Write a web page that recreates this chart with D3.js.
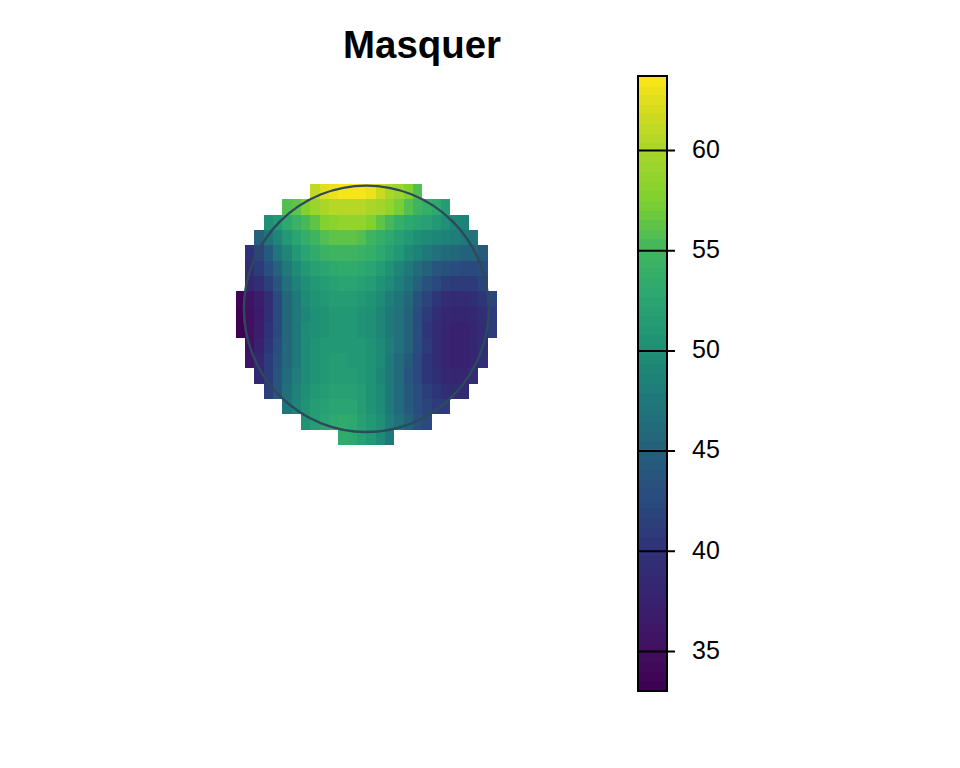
<!DOCTYPE html>
<html>
<head>
<meta charset="utf-8">
<script src="https://cdnjs.cloudflare.com/ajax/libs/d3/7.8.5/d3.min.js"></script>
<style>
  html, body { margin: 0; padding: 0; background: #fff; }
  svg { display: block; font-family: "Liberation Sans", Arial, sans-serif; }
</style>
</head>
<body>
<svg id="chart" width="960" height="768"></svg>
<script>
const title = "Masquer";
const colorTicks = [35, 40, 45, 50, 55, 60];
const valueRange = [33, 63.7];
const columnCount = 28;

// colour ramp as it looks on the reference bar
const rampValues = [33, 35, 37.5, 40, 42.5, 45, 47.5, 50, 52.5, 55, 57.5, 60, 62, 63.7];
const rampColors = ["#3d0050", "#420f60", "#38216f", "#2f3278", "#2a4a7e", "#24607c", "#1f787a",
  "#1f8f76", "#2aa572", "#3fb560", "#7fd12f", "#a9d52a", "#d5dc1e", "#fde619"];

// first column of each row of the grid, the rest of the row runs on from there
const rowStart = [8, 5, 3, 2, 1, 1, 1, 0, 0, 0, 1, 1, 2, 3, 5, 7, 11];

// values, top row first
const cellValues = [
  [61, 62.5, 63, 63.5, 63.5, 63.5, 63, 61.5, 60, 59, 57.5, 56],
  [56, 56.5, 57.5, 59, 60, 60.5, 60.5, 60.5, 60.5, 60, 59.5, 58.5, 57, 56, 55, 54, 53, 51.5],
  [50, 51, 53, 54.5, 55.5, 56.5, 57.5, 58, 58.5, 58.5, 58.5, 57.5, 56.5, 55.5, 54, 53, 52.5, 52, 51, 50, 49, 48.5],
  [45, 47, 49, 51, 52.5, 54, 55, 56, 56.5, 56.5, 56.5, 56, 55, 54, 53, 52, 51, 50, 49.5, 49, 48.5, 48, 47.5, 47],
  [40, 42, 44.5, 47, 49, 51, 52.5, 53.5, 54.5, 55, 55, 55, 54.5, 54, 53, 52, 51, 49.5, 48.5, 47.5, 46.5, 46, 45.5, 45, 45, 44.5],
  [39, 41, 43, 45, 47.5, 49.5, 51, 52, 52.5, 53, 53.5, 53.5, 53, 52.5, 51.5, 50.5, 49, 47.5, 46, 45, 44, 43.5, 43, 42.5, 42.5, 43],
  [38, 39.5, 41.5, 44, 46.5, 48.5, 50, 51, 51.5, 52, 52.5, 52.5, 52, 51.5, 50.5, 49.5, 48, 46.5, 45, 43.5, 42.5, 41.5, 41, 41, 41, 42],
  [33.5, 35.5, 37, 39.5, 42.5, 45.5, 47.5, 49.5, 50.5, 51, 51.5, 51.5, 51.5, 51, 50.5, 49.5, 48, 47, 45.5, 43.5, 42, 40.5, 39.5, 39, 39, 39.5, 40.5, 42],
  [33, 35, 36.5, 39.5, 42.5, 45.5, 47.5, 49, 50, 50.5, 51, 51, 51, 50.5, 50, 49, 47.5, 46.5, 45, 43, 41, 39.5, 38.5, 38, 38, 38.5, 39.5, 41],
  [33, 35, 37, 40, 42.5, 45.5, 47.5, 49.5, 50, 50.5, 51, 51, 51, 50.5, 50, 49, 47.5, 46.5, 45, 43, 40.5, 39, 38, 37.5, 37.5, 38, 39, 41],
  [35, 37.5, 40.5, 43, 45.5, 47.5, 49.5, 50.5, 51, 51, 51, 51, 51, 50.5, 49.5, 48, 46.5, 45, 43, 41, 39, 38, 37.5, 37.5, 38, 39.5],
  [35.5, 38, 41, 43.5, 45.5, 47.5, 49.5, 50.5, 51, 51.5, 51.5, 51, 51, 50.5, 49.5, 47.5, 46, 44.5, 42.5, 40.5, 39, 38, 37.5, 37.5, 38, 39.5],
  [38.5, 41, 44, 46, 48, 49.5, 50.5, 51, 51.5, 51.5, 51.5, 51, 50.5, 49, 47.5, 46, 44, 42.5, 40.5, 39.5, 38.5, 38, 38, 39],
  [41.5, 44, 46.5, 48.5, 50, 51, 51.5, 52, 52, 52, 51.5, 50.5, 49.5, 47.5, 46, 44.5, 43, 41.5, 40.5, 39.5, 39, 39],
  [47, 49, 50.5, 51.5, 52, 52.5, 52.5, 52.5, 51.5, 50.5, 49.5, 47.5, 46, 44.5, 43, 42, 41, 41],
  [50.5, 51.5, 52.5, 53, 53.5, 53, 52, 51, 50, 48, 46.5, 45, 43.5, 42.5],
  [53.5, 53, 52, 51, 49.5, 47.5]
];

const svg = d3.select("#chart");

const grid = { left: 235.6, right: 497, top: 184, bottom: 445 };
const bar = { left: 638, right: 667, top: 76, bottom: 691 };

const xScale = d3.scaleLinear().domain([0, columnCount]).range([grid.left, grid.right]);
const yScale = d3.scaleLinear().domain([0, cellValues.length]).range([grid.top, grid.bottom]);

// 64 colour steps like the colour bar
const levels = 64;
const ramp = d3.scaleLinear().domain(rampValues).range(rampColors).interpolate(d3.interpolateRgb);
const step = (valueRange[1] - valueRange[0]) / levels;
const palette = d3.range(levels).map(i => ramp(valueRange[0] + (i + 0.5) * step));
const color = d3.scaleQuantize().domain(valueRange).range(palette);

const cells = cellValues.flatMap((row, r) =>
  row.map((value, i) => ({ row: r, col: rowStart[r] + i, value })));

svg.append("g")
  .attr("shape-rendering", "crispEdges")
  .selectAll("rect")
  .data(cells)
  .enter()
  .append("rect")
  .attr("x", d => xScale(d.col))
  .attr("y", d => yScale(d.row))
  .attr("width", d => xScale(d.col + 1) - xScale(d.col))
  .attr("height", d => yScale(d.row + 1) - yScale(d.row))
  .attr("fill", d => color(d.value));

// head outline
svg.append("ellipse")
  .attr("cx", 366.3)
  .attr("cy", 308.8)
  .attr("rx", 122.4)
  .attr("ry", 123.2)
  .attr("fill", "none")
  .attr("stroke", "#2c4a5c")
  .attr("stroke-width", 2.4);

svg.append("text")
  .attr("x", 422)
  .attr("y", 58)
  .attr("text-anchor", "middle")
  .attr("font-weight", "bold")
  .attr("font-size", 38.4)
  .text(title);

// colour bar
const barScale = d3.scaleLinear().domain(valueRange).range([bar.bottom, bar.top]);

svg.append("g")
  .attr("shape-rendering", "crispEdges")
  .selectAll("rect")
  .data(palette)
  .enter()
  .append("rect")
  .attr("x", bar.left)
  .attr("width", bar.right - bar.left)
  .attr("y", (d, i) => barScale(valueRange[0] + (i + 1) * step))
  .attr("height", barScale(valueRange[0]) - barScale(valueRange[0] + step))
  .attr("fill", d => d);

svg.append("rect")
  .attr("x", bar.left)
  .attr("y", bar.top)
  .attr("width", bar.right - bar.left)
  .attr("height", bar.bottom - bar.top)
  .attr("fill", "none")
  .attr("stroke", "#000")
  .attr("stroke-width", 2);

const axis = svg.append("g")
  .attr("transform", `translate(${bar.left},0)`)
  .call(d3.axisRight(barScale).tickValues(colorTicks).tickSize(bar.right - bar.left + 8).tickPadding(17));

axis.select(".domain").remove();
axis.selectAll("line").attr("stroke", "#000").attr("stroke-width", 2);
axis.selectAll("text")
  .attr("fill", "#000")
  .attr("font-size", 25)
  .attr("dy", "0.29em")
  .attr("font-family", '"Liberation Sans", Arial, sans-serif');
</script>
</body>
</html>
